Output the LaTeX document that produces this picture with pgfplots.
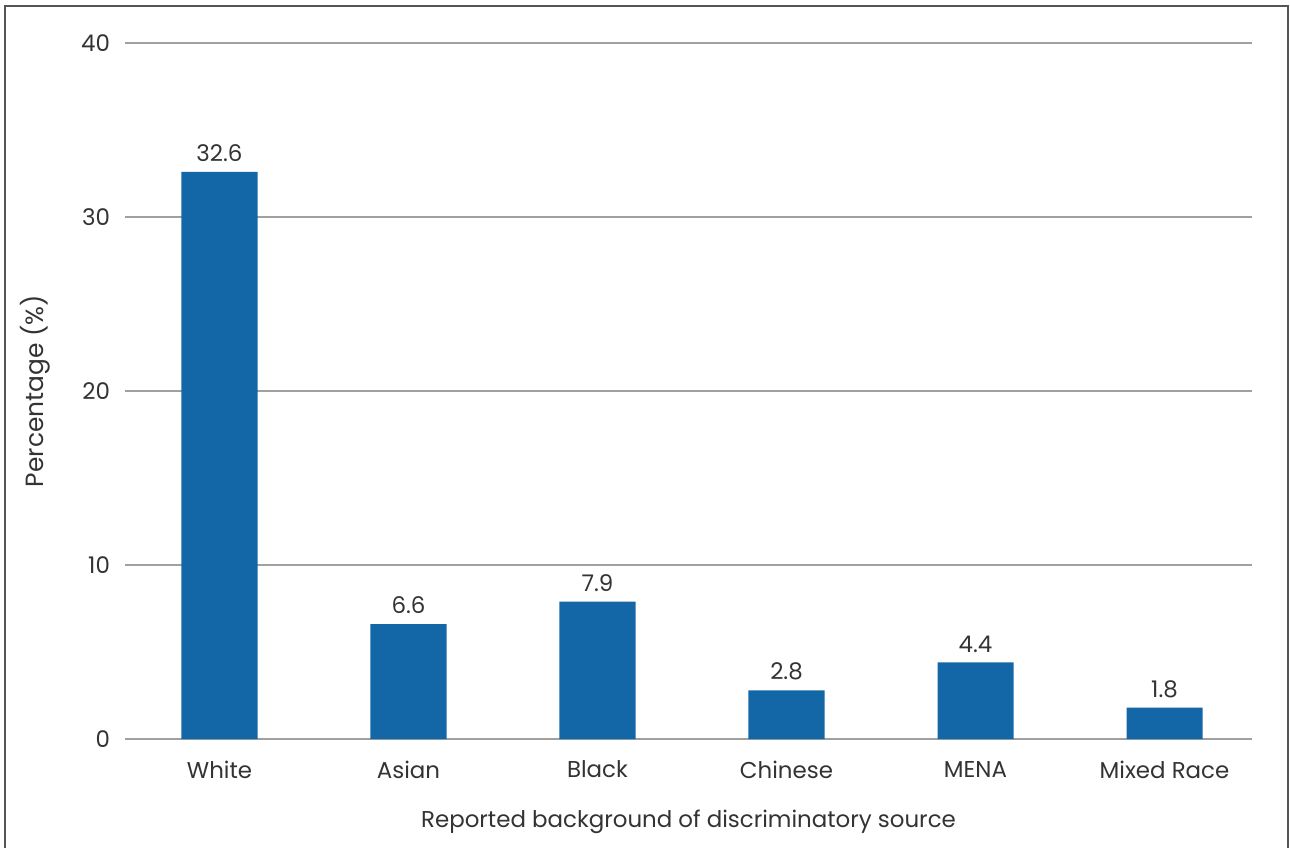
\documentclass[border=0pt]{standalone}
\usepackage{fontspec}
\setmainfont{Poppins}
\usepackage{pgfplots}
\pgfplotsset{compat=1.18}
\definecolor{barblue}{HTML}{1467A7}
\definecolor{txt}{HTML}{333333}
\definecolor{gridgray}{HTML}{A0A0A0}
\definecolor{framegray}{HTML}{555555}

\begin{document}
\begin{tikzpicture}
  % page size and outer frame
  \useasboundingbox (0,0) rectangle (645bp,424bp);
  \draw[framegray, line width=1bp] (2.5bp,-2bp) -- (2.5bp,421bp) -- (644bp,421bp) -- (644bp,-2bp);
  \begin{axis}[
    at={(62.5bp,54.5bp)}, anchor=south west,
    scale only axis,
    width=563.5bp, height=348bp,
    xmin=-0.5, xmax=5.463,
    ymin=0, ymax=40,
    ytick={0,10,20,30,40},
    xtick=data,
    xticklabels={White,Asian,Black,Chinese,MENA,Mixed Race},
    axis line style={draw=none},
    major tick length=0pt,
    ymajorgrids,
    grid style={gridgray, line width=0.6bp},
    font=\fontsize{11.5}{13}\selectfont,
    every tick label/.append style={txt},
    /pgf/number format/assume math mode=true,
    yticklabel style={xshift=-4bp},
    xticklabel style={yshift=-7.5bp},
    ylabel={Percentage (\%)},
    xlabel={Reported background of discriminatory source},
    label style={txt},
    ylabel style={at={(axis description cs:0,0.5)}, anchor=south, yshift=34bp, font=\fontsize{12.5}{14}\selectfont},
    xlabel style={at={(axis description cs:0.5,0)}, anchor=north, yshift=-32bp},
    nodes near coords,
    nodes near coords style={txt, font=\fontsize{11.5}{13}\selectfont, /pgf/number format/fixed, /pgf/number format/precision=1, /pgf/number format/fixed zerofill, /pgf/number format/assume math mode=true, yshift=1.5bp},
    clip=false,
  ]
    \draw[gridgray, line width=1bp] (axis cs:-0.5,0) -- (axis cs:5.463,0);
    \addplot[ybar, bar width=38bp, fill=barblue, draw=none] coordinates {
      (0,32.6) (1,6.6) (2,7.9) (3,2.8) (4,4.4) (5,1.8)
    };
  \end{axis}
\end{tikzpicture}
\end{document}
